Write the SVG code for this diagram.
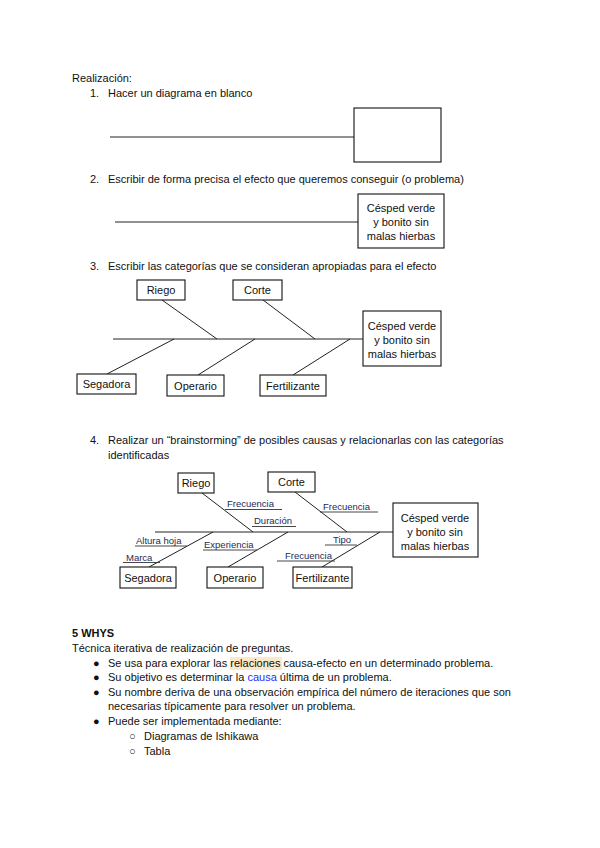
<svg xmlns="http://www.w3.org/2000/svg" width="600" height="848" viewBox="0 0 600 848">
<style>
text{font-family:"Liberation Sans",Arial,sans-serif;font-size:11px;fill:#111}
.c{text-anchor:middle}
.lbl{font-size:9.5px;fill:#1f2a55}
.box{fill:#fff;stroke:#111;stroke-width:1.1}
.ln{stroke:#222;stroke-width:1;fill:none}
.ul{stroke:#333;stroke-width:0.9}
.b{font-weight:bold}
</style>
<rect width="600" height="848" fill="#fff"/>

<!-- Intro text -->
<g id="text-top">
<text x="72" y="82">Realización:</text>
<text x="90" y="97">1.</text><text x="108" y="97">Hacer un diagrama en blanco</text>
<text x="90" y="183">2.</text><text x="108" y="183">Escribir de forma precisa el efecto que queremos conseguir (o problema)</text>
<text x="90" y="270">3.</text><text x="108" y="270">Escribir las categorías que se consideran apropiadas para el efecto</text>
<text x="90" y="444">4.</text><text x="108" y="444">Realizar un “brainstorming” de posibles causas y relacionarlas con las categorías</text>
<text x="108" y="459">identificadas</text>
</g>

<!-- Diagram 1 -->
<g id="d1-connectors"><line class="ln" x1="110" y1="137" x2="354" y2="137"/></g>
<g id="d1-effect"><rect class="box" x="354" y="108" width="87" height="54"/></g>

<!-- Diagram 2 -->
<g id="d2-connectors"><line class="ln" x1="115" y1="222" x2="358" y2="222"/></g>
<g id="d2-effect"><rect class="box" x="358" y="194" width="86" height="54"/>
<text class="c" x="401" y="212">Césped verde</text><text class="c" x="401" y="226">y bonito sin</text><text class="c" x="401" y="240">malas hierbas</text></g>

<!-- Diagram 3 -->
<g id="d3-connectors">
<line class="ln" x1="113" y1="339" x2="363" y2="339"/>
<line class="ln" x1="162" y1="300" x2="217" y2="339"/>
<line class="ln" x1="263" y1="300" x2="315" y2="339"/>
<line class="ln" x1="107" y1="374" x2="174" y2="339"/>
<line class="ln" x1="198" y1="375" x2="255" y2="339"/>
<line class="ln" x1="293" y1="375" x2="350" y2="339"/>
</g>
<g id="d3-riego"><rect class="box" x="137" y="280" width="48" height="20"/><text class="c" x="161" y="294">Riego</text></g>
<g id="d3-corte"><rect class="box" x="233" y="280" width="49" height="20"/><text class="c" x="257.5" y="294">Corte</text></g>
<g id="d3-segadora"><rect class="box" x="77" y="374" width="59" height="20"/><text class="c" x="106.5" y="388">Segadora</text></g>
<g id="d3-operario"><rect class="box" x="167" y="375" width="57" height="21"/><text class="c" x="195.5" y="389.5">Operario</text></g>
<g id="d3-fertilizante"><rect class="box" x="260" y="375" width="66" height="21"/><text class="c" x="293" y="389.5">Fertilizante</text></g>
<g id="d3-effect"><rect class="box" x="363" y="311" width="78" height="55"/>
<text class="c" x="402" y="330">Césped verde</text><text class="c" x="402" y="344">y bonito sin</text><text class="c" x="402" y="358">malas hierbas</text></g>

<!-- Diagram 4 -->
<g id="d4-connectors">
<line class="ln" x1="155" y1="532" x2="393" y2="532"/>
<line class="ln" x1="202" y1="493" x2="253" y2="532"/>
<line class="ln" x1="295" y1="492" x2="347" y2="532"/>
<line class="ln" x1="149" y1="567" x2="213" y2="532"/>
<line class="ln" x1="228" y1="567" x2="288" y2="532"/>
<line class="ln" x1="322" y1="567" x2="380" y2="532"/>
<line class="ul" x1="225" y1="509.5" x2="282" y2="509.5"/>
<line class="ul" x1="252" y1="526.5" x2="296" y2="526.5"/>
<line class="ul" x1="320" y1="512" x2="378" y2="512"/>
<line class="ul" x1="135" y1="546" x2="187" y2="546"/>
<line class="ul" x1="123" y1="562.5" x2="160" y2="562.5"/>
<line class="ul" x1="203" y1="550" x2="257" y2="550"/>
<line class="ul" x1="325" y1="545" x2="357" y2="545"/>
<line class="ul" x1="277" y1="561" x2="335" y2="561"/>
</g>
<g id="d4-labels">
<text class="lbl" x="227" y="507">Frecuencia</text>
<text class="lbl" x="254" y="523.5">Duración</text>
<text class="lbl" x="323" y="509.5">Frecuencia</text>
<text class="lbl" x="136" y="544">Altura hoja</text>
<text class="lbl" x="126" y="560.5">Marca</text>
<text class="lbl" x="204" y="548">Experiencia</text>
<text class="lbl" x="333" y="543">Tipo</text>
<text class="lbl" x="285" y="559">Frecuencia</text>
</g>
<g id="d4-riego"><rect class="box" x="178" y="473" width="36" height="20"/><text class="c" x="196" y="487">Riego</text></g>
<g id="d4-corte"><rect class="box" x="268" y="472" width="47" height="20"/><text class="c" x="291.5" y="486">Corte</text></g>
<g id="d4-segadora"><rect class="box" x="120" y="567" width="56" height="21"/><text class="c" x="148" y="581.5">Segadora</text></g>
<g id="d4-operario"><rect class="box" x="207" y="567" width="56" height="21"/><text class="c" x="235" y="581.5">Operario</text></g>
<g id="d4-fertilizante"><rect class="box" x="293" y="567" width="59" height="21"/><text class="c" x="322.5" y="581.5">Fertilizante</text></g>
<g id="d4-effect"><rect class="box" x="393" y="503" width="85" height="54"/>
<text class="c" x="435" y="522">Césped verde</text><text class="c" x="435" y="536">y bonito sin</text><text class="c" x="435" y="550">malas hierbas</text></g>

<!-- 5 WHYS -->
<g id="text-whys">
<text class="b" x="72" y="637">5 WHYS</text>
<text x="72" y="652">Técnica iterativa de realización de preguntas.</text>
<text x="93" y="667">●</text>
<rect x="230" y="657" width="52" height="13" fill="#fce8c8"/>
<text x="108" y="667">Se usa para explorar las <tspan>relaciones</tspan> causa-efecto en un determinado problema.</text>
<text x="93" y="681">●</text>
<text x="108" y="681">Su objetivo es determinar la <tspan fill="#2a2aff">causa</tspan> última de un problema.</text>
<text x="93" y="696">●</text>
<text x="108" y="696">Su nombre deriva de una observación empírica del número de iteraciones que son</text>
<text x="108" y="710">necesarias típicamente para resolver un problema.</text>
<text x="93" y="725">●</text>
<text x="108" y="725">Puede ser implementada mediante:</text>
<text x="129" y="740">○</text>
<text x="144" y="740">Diagramas de Ishikawa</text>
<text x="129" y="755">○</text>
<text x="144" y="755">Tabla</text>
</g>
</svg>
